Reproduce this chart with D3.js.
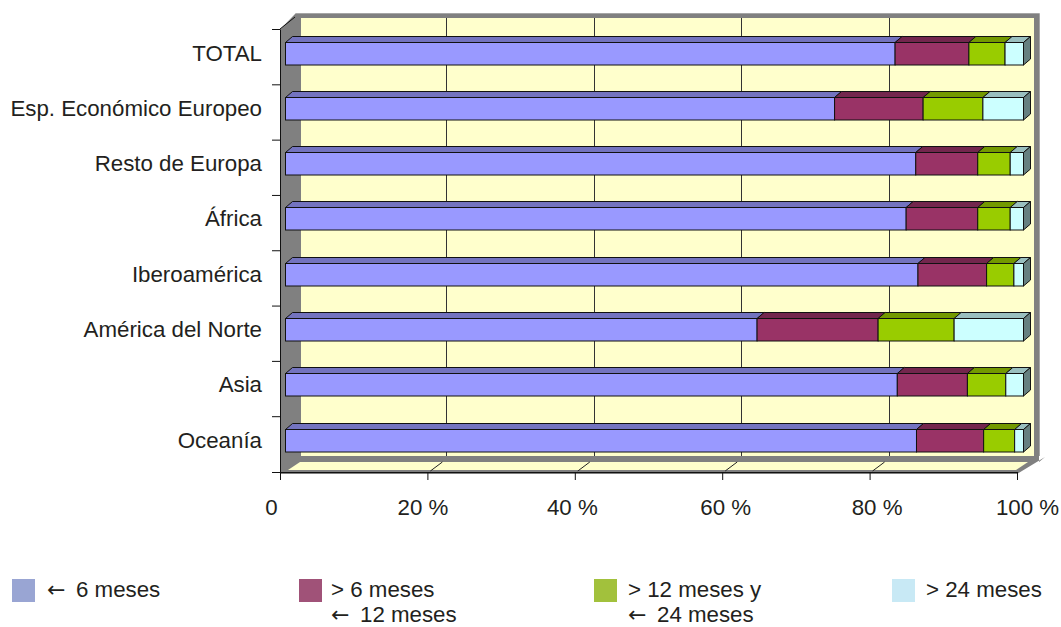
<!DOCTYPE html>
<html><head><meta charset="utf-8">
<script src="https://cdn.jsdelivr.net/npm/d3@7"></script>
<style>
html,body{margin:0;padding:0;background:#fff}
svg{display:block}
text{font-family:"Liberation Sans",Arial,sans-serif;fill:#231f20}
</style></head><body>
<script>
const categories=["TOTAL","Esp. Económico Europeo","Resto de Europa","África","Iberoamérica","América del Norte","Asia","Oceanía"];
const le6=[82.6,74.4,85.4,84.1,85.7,63.9,82.9,85.5];
const m6to12=[10.0,12.0,8.4,9.7,9.3,16.4,9.5,9.1];
const m12to24=[4.9,8.1,4.4,4.4,3.7,10.3,5.2,4.2];
const over24=[2.5,5.5,1.8,1.8,1.3,9.4,2.4,1.2];
const tickVals=[0,20,40,60,80,100];
const tickLabels=["0","20 %","40 %","60 %","80 %","100 %"];
const fills=["#9999ff","#993366","#99cc00","#ccffff"];
const topFills=["#7373bf","#73264d","#739900","#99bfbf"];
const legendColors=["#99a5d3","#a05278","#a2c13c","#c8e9f5"];
const legendLines=[["← 6 meses"],["> 6 meses","← 12 meses"],["> 12 meses y","← 24 meses"],["> 24 meses"]];

const W=1061,H=627,FS=22.3;
const svg=d3.select("body").append("svg").attr("width",W).attr("height",H);
const x=d3.scaleLinear().domain([0,100]).range([280,1017]);
const y=d3.scaleBand().domain(categories).range([29.5,472]);
const wallDx=19,depth=7,rise=6,barH=22.5;
const floorY=472,wallBottom=456;

const g=svg.append("g");
g.append("polygon").attr("points",`280,29.5 296,13 1039,13 1039,${wallBottom+6} 1045,${wallBottom+1} 1017,${floorY+2} 280,${floorY+2}`).attr("fill","#808080");
g.append("path").attr("d",`M296,13.5H1039.5V${wallBottom}`).attr("fill","none").attr("stroke","#a6a6a6");
g.append("rect").attr("x",x(0)+21).attr("y",18).attr("width",733).attr("height",wallBottom-18).attr("fill","#ffffcc");
g.append("polygon").attr("points",`288,${floorY-2} 300,462 1028,462 1016,${floorY-2}`).attr("fill","#ffffcc");

const gridX=v=>Math.round(x(v)+wallDx)+0.5;
g.selectAll("line.grid").data(tickVals.slice(1,5)).join("line").attr("class","grid")
 .attr("x1",gridX).attr("x2",gridX).attr("y1",18).attr("y2",wallBottom).attr("stroke","#333");
g.selectAll("line.foot").data(tickVals.slice(1,5)).join("line").attr("class","foot")
 .attr("x1",d=>x(d)+3).attr("x2",d=>x(d)+15).attr("y1",floorY-1).attr("y2",462).attr("stroke","#222");

const bx=d3.scaleLinear().domain([0,100]).range([285.5,1023.5]);
const rows=categories.map((c,i)=>({c,vals:[le6[i],m6to12[i],m12to24[i],over24[i]]}));
const stack=svg.selectAll("g.row").data(rows).join("g").attr("class","row");
stack.each(function(r){
  const top=Math.round(y(r.c)+12)+0.5, gr=d3.select(this);
  let acc=0;
  const segs=r.vals.map((v,k)=>{const s={k,a:acc,b:acc+v};acc+=v;return s;});
  gr.selectAll("polygon.top").data(segs).join("polygon").attr("class","top")
    .attr("points",s=>`${bx(s.a)},${top} ${bx(s.a)+depth},${top-rise} ${bx(s.b)+depth},${top-rise} ${bx(s.b)},${top}`)
    .attr("fill",s=>topFills[s.k]).attr("stroke","#111");
  const e=bx(100);
  gr.append("polygon").attr("points",`${e},${top} ${e+depth},${top-rise} ${e+depth},${top+barH-rise} ${e},${top+barH}`)
    .attr("fill","#668080").attr("stroke","#111");
  gr.selectAll("rect").data(segs).join("rect")
    .attr("x",s=>bx(s.a)).attr("y",top).attr("width",s=>bx(s.b)-bx(s.a)).attr("height",barH)
    .attr("fill",s=>fills[s.k]).attr("stroke","#111");
});

const labelShift=[-9,-5,-3,3,7,10];
const ax=svg.append("g").attr("transform",`translate(0,${floorY})`)
  .call(d3.axisBottom(x).tickValues(tickVals).tickFormat((d,i)=>tickLabels[i]).tickSize(8));
ax.select(".domain").attr("stroke","#111").attr("d","M272,0.5H1017");
ax.selectAll("line").attr("stroke","#111");
ax.selectAll("text").attr("font-size",FS).attr("dy",0).attr("y",43).attr("x",(d,i)=>labelShift[i]);
const ay=svg.append("g").attr("transform","translate(280,0)")
  .call(d3.axisLeft(y).tickSize(0).tickPadding(18));
ay.select(".domain").attr("stroke","#111").attr("d","M0.5,29.5V472");
ay.selectAll("text").attr("font-size",FS).attr("dy","0.33em").attr("transform","translate(0,-4)");
svg.append("g").selectAll("line").data(categories).join("line")
  .attr("x1",272).attr("x2",280).attr("y1",d=>y(d)).attr("y2",d=>y(d)).attr("stroke","#111");
svg.append("line").attr("x1",280).attr("y1",29).attr("x2",295).attr("y2",17).attr("stroke","#111");

const legX=[12,299,594,892],textX=[47,331,628,926];
const lg=svg.selectAll("g.leg").data(legendLines).join("g").attr("class","leg");
lg.append("rect").attr("x",(d,i)=>legX[i]).attr("y",579).attr("width",23).attr("height",23).attr("fill",(d,i)=>legendColors[i]);
lg.each(function(lines,i){
  const t=d3.select(this).selectAll("text").data(lines).join("text")
    .attr("x",textX[i]).attr("y",(d,k)=>597+k*24.5).attr("font-size",FS);
  t.each(function(d){
    const el=d3.select(this);
    if(d[0]==="←"){
      el.append("tspan").style("font-family","'DejaVu Sans'").style("font-size","22px").text("←");
      el.append("tspan").attr("x",textX[i]+29).text(d.slice(2));
    } else el.text(d);
  });
});
</script></body></html>
